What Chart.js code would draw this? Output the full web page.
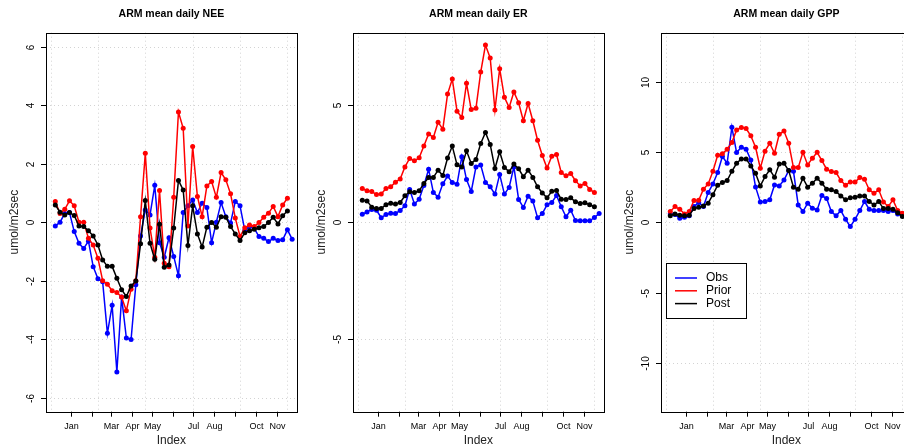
<!DOCTYPE html>
<html>
<head>
<meta charset="utf-8">
<script src="https://cdn.jsdelivr.net/npm/chart.js@4.4.1/dist/chart.umd.min.js"></script>
<style>
html, body { margin: 0; padding: 0; background: #fff; overflow: hidden; }
#wrap { position: relative; width: 904px; height: 448px; overflow: hidden; }
canvas { position: absolute; top: 0; }
</style>
</head>
<body>
<div id="wrap">
  <canvas id="nee" width="308" height="448" style="left:0px"></canvas>
  <canvas id="er" width="308" height="448" style="left:307px"></canvas>
  <canvas id="gpp" width="308" height="448" style="left:615px"></canvas>
</div>
<script>
// weekly means, index 1..51 (Obs has one more week than Prior/Post)
const obsNEE = [-0.13, 0.00, 0.30, 0.33, -0.32, -0.72, -0.90, -0.65, -1.52, -1.93,
  -2.04, -3.80, -2.84, -5.12, -2.56, -3.96, -4.01, -2.14, -0.47, 0.42,
  0.25, 1.26, -0.70, -1.20, -0.53, -1.17, -1.83, 0.33, 0.56, 0.76,
  0.33, 0.65, 0.50, -0.70, 0.00, 0.67, 0.19, -0.03, 0.71, 0.56,
  -0.28, -0.15, -0.21, -0.49, -0.55, -0.66, -0.55, -0.63, -0.60, -0.26, -0.58];
const priorNEE = [0.71, 0.30, 0.44, 0.73, 0.56, 0.00, 0.00, -0.55, -0.78, -1.23,
  -2.00, -2.12, -2.34, -2.40, -2.56, -3.03, -2.29, -2.00, 0.19, 2.36,
  -0.20, -1.20, 1.08, -1.40, -1.52, 0.85, 3.77, 3.21, -0.13, 2.59,
  0.88, 0.19, 1.24, 1.39, 0.85, 1.70, 1.45, 0.97, 0.14, -0.49,
  -0.19, -0.10, -0.15, -0.01, 0.17, 0.31, 0.54, 0.19, 0.59, 0.82];
const postNEE = [0.59, 0.34, 0.25, 0.33, 0.23, -0.13, -0.15, -0.29, -0.47, -0.78,
  -1.29, -1.51, -1.51, -1.92, -2.31, -2.54, -2.18, -2.01, -0.74, 0.74,
  -0.72, -1.27, -0.07, -1.54, -1.46, -0.20, 1.43, 1.10, -0.80, 0.56,
  -0.40, -0.85, -0.17, -0.01, -0.17, 0.19, 0.17, -0.15, -0.40, -0.63,
  -0.36, -0.29, -0.24, -0.19, -0.15, -0.01, 0.17, -0.06, 0.22, 0.38];

const obsER = [0.34, 0.44, 0.54, 0.51, 0.19, 0.33, 0.38, 0.37, 0.50, 0.70,
  1.40, 0.78, 0.98, 1.57, 2.26, 1.27, 1.07, 1.64, 1.97, 1.70,
  1.62, 2.79, 1.82, 1.31, 2.36, 2.44, 1.70, 1.51, 1.20, 2.04,
  1.20, 1.48, 2.36, 0.97, 0.63, 1.11, 0.90, 0.19, 0.37, 0.74,
  0.84, 1.14, 0.66, 0.23, 0.51, 0.07, 0.06, 0.06, 0.06, 0.20, 0.37];
const priorER = [1.44, 1.34, 1.31, 1.18, 1.20, 1.44, 1.51, 1.71, 1.84, 2.36,
  2.72, 2.62, 2.75, 3.25, 3.77, 3.62, 4.27, 3.97, 5.47, 6.11,
  4.74, 4.47, 5.93, 4.81, 4.87, 6.41, 7.56, 7.01, 4.79, 6.55,
  5.33, 4.90, 5.56, 5.10, 4.33, 5.07, 4.33, 3.50, 2.85, 2.31,
  2.82, 2.89, 2.12, 1.98, 2.08, 1.77, 1.55, 1.65, 1.40, 1.27];
const postER = [0.94, 0.91, 0.64, 0.58, 0.58, 0.75, 0.81, 0.78, 0.84, 1.13,
  1.30, 1.27, 1.34, 1.65, 1.91, 1.91, 2.22, 1.99, 2.74, 3.25,
  2.45, 2.36, 3.05, 2.51, 2.68, 3.36, 3.83, 3.32, 2.29, 3.01,
  2.34, 2.15, 2.48, 2.28, 1.94, 2.22, 1.91, 1.51, 1.25, 1.04,
  1.32, 1.35, 0.98, 0.97, 1.04, 0.87, 0.80, 0.83, 0.75, 0.66];

const obsGPP = [0.59, 0.54, 0.28, 0.35, 0.45, 1.11, 1.40, 1.11, 2.11, 2.72,
  3.53, 4.67, 4.19, 6.75, 4.95, 5.33, 5.19, 4.43, 2.51, 1.44,
  1.47, 1.59, 2.65, 2.58, 3.00, 3.67, 3.62, 1.23, 0.76, 1.35,
  0.99, 0.87, 1.89, 1.68, 0.76, 0.45, 0.83, 0.21, -0.31, 0.21,
  0.83, 1.47, 0.92, 0.83, 0.83, 0.83, 0.76, 0.83, 0.59, 0.45, 0.35];
const priorGPP = [0.76, 1.11, 0.92, 0.59, 0.76, 1.54, 1.56, 2.34, 2.72, 3.62,
  4.76, 4.86, 5.19, 5.66, 6.56, 6.73, 6.66, 6.14, 5.33, 3.84,
  5.05, 5.61, 4.90, 6.25, 6.48, 5.61, 3.88, 3.88, 4.97, 4.07,
  4.55, 4.97, 4.38, 3.77, 3.60, 3.53, 2.96, 2.63, 2.86, 2.86,
  3.17, 3.05, 2.30, 2.06, 2.30, 1.44, 1.11, 1.59, 0.83, 0.64];
const postGPP = [0.45, 0.59, 0.50, 0.45, 0.50, 0.97, 1.06, 1.16, 1.35, 1.96,
  2.63, 2.82, 2.96, 3.62, 4.19, 4.50, 4.50, 4.00, 3.48, 2.58,
  3.24, 3.72, 3.20, 4.13, 4.19, 3.67, 2.49, 2.34, 3.13, 2.49,
  2.77, 3.13, 2.77, 2.34, 2.30, 2.18, 1.87, 1.59, 1.73, 1.77,
  1.87, 1.87, 1.47, 1.23, 1.47, 0.97, 0.97, 0.92, 0.68, 0.40];

// month starts on the index axis (Feb, Jun, Sep labels dropped like in R)
const monthTicks = [4.31, 8.74, 12.74, 17.17, 21.46, 25.89, 30.17, 34.6, 39.03, 43.31, 47.74];
const monthLabels = ['Jan', '', 'Mar', 'Apr', 'May', '', 'Jul', 'Aug', '', 'Oct', 'Nov'];
const gridX = [0, 10, 20, 30, 40, 50];

const yTicksNEE = [-6, -4, -2, 0, 2, 4, 6];
const yTicksER = [-5, 0, 5];
const yTicksGPP = [-10, -5, 0, 5, 10];

const FONT = '"Liberation Sans", Arial, Helvetica, sans-serif';

const pts = arr => arr.map((v, i) => ({ x: i + 1, y: v }));

function line(ctx, x1, y1, x2, y2) {
    ctx.beginPath();
    ctx.moveTo(x1, y1);
    ctx.lineTo(x2, y2);
    ctx.stroke();
}

// R base-graphics look: dotted grid, box, outside ticks, rotated y labels
const rFrame = {
    id: 'rFrame',
    beforeDatasetsDraw(chart, args, opts) {
        const { ctx, chartArea: a, scales: { x, y } } = chart;
        ctx.save();
        ctx.strokeStyle = '#d3d3d3';
        ctx.lineWidth = 1;
        ctx.setLineDash([1, 3]);
        gridX.forEach(v => {
            const px = Math.round(x.getPixelForValue(v)) + 0.5;
            line(ctx, px, a.top, px, a.bottom);
        });
        opts.yTicks.forEach(v => {
            const py = Math.round(y.getPixelForValue(v)) + 0.5;
            line(ctx, a.left, py, a.right, py);
        });
        ctx.restore();
    },
    afterDraw(chart, args, opts) {
        const { ctx, chartArea: a, scales: { x, y } } = chart;
        ctx.save();
        ctx.strokeStyle = '#000';
        ctx.fillStyle = '#000';
        ctx.lineWidth = 1;
        ctx.setLineDash([]);
        ctx.strokeRect(Math.round(a.left) + 0.5, Math.round(a.top) + 0.5,
            Math.round(a.right - a.left), Math.round(a.bottom - a.top));

        // x axis
        ctx.font = '9px ' + FONT;
        ctx.textAlign = 'center';
        ctx.textBaseline = 'middle';
        monthTicks.forEach((v, i) => {
            const px = Math.round(x.getPixelForValue(v)) + 0.5;
            line(ctx, px, a.bottom, px, a.bottom + 5);
            if (monthLabels[i]) ctx.fillText(monthLabels[i], px, a.bottom + 15);
        });

        // y axis
        ctx.font = '10px ' + FONT;
        opts.yTicks.forEach(v => {
            const py = Math.round(y.getPixelForValue(v)) + 0.5;
            line(ctx, a.left - 5, py, a.left, py);
            ctx.save();
            ctx.translate(a.left - 15, py);
            ctx.rotate(-Math.PI / 2);
            ctx.fillText(String(v), 0, 0);
            ctx.restore();
        });

        const cx = (a.left + a.right) / 2;
        ctx.font = 'bold 10.5px ' + FONT;
        ctx.fillText(opts.title, cx, 14);

        ctx.font = '12px ' + FONT;
        ctx.fillStyle = '#222';
        ctx.fillText('Index', cx, 441);
        ctx.save();
        ctx.translate(a.left - 31, (a.top + a.bottom) / 2);
        ctx.rotate(-Math.PI / 2);
        ctx.fillText('umol/m2sec', 0, 0);
        ctx.restore();

        if (opts.legend) {
            const lx = a.left + 5, ly = 263.5;
            ctx.fillStyle = '#fff';
            ctx.fillRect(lx, ly, 80, 55);
            ctx.strokeStyle = '#000';
            ctx.strokeRect(Math.round(lx) + 0.5, ly, 80, 55);
            ctx.font = '12px ' + FONT;
            ctx.textAlign = 'left';
            ctx.fillStyle = '#000';
            ['Obs', 'Prior', 'Post'].forEach((name, k) => {
                const ds = chart.data.datasets.find(d => d.label === name);
                const ry = ly + 14.5 + k * 12.8;
                ctx.strokeStyle = ds.borderColor;
                ctx.lineWidth = 1.5;
                line(ctx, lx + 9, ry, lx + 31, ry);
                ctx.fillText(name, lx + 40, ry);
            });
        }
        ctx.restore();
    }
};

function panel(id, title, obs, prior, post, lim, yTicks, legend) {
    const style = c => ({
        borderColor: c,
        backgroundColor: c,
        pointBackgroundColor: c,
        pointBorderWidth: 0,
        pointRadius: 2.5,
        borderWidth: 1.5,
        tension: 0,
        fill: false
    });
    return new Chart(document.getElementById(id), {
        type: 'line',
        data: {
            datasets: [
                { label: 'Obs', data: pts(obs), order: 3, ...style('#0000ff') },
                { label: 'Prior', data: pts(prior), order: 2, ...style('#ff0000') },
                { label: 'Post', data: pts(post), order: 1, ...style('#000000') }
            ]
        },
        options: {
            responsive: false,
            animation: false,
            events: [],
            layout: { padding: { left: 46, right: 11.3, top: 32.7, bottom: 36.3 } },
            plugins: {
                legend: { display: false },
                tooltip: { enabled: false },
                rFrame: { title: title, yTicks: yTicks, legend: legend }
            },
            scales: {
                x: { type: 'linear', display: false, min: -0.96, max: 51.96 },
                y: { type: 'linear', display: false, min: -lim, max: lim }
            }
        },
        plugins: [rFrame]
    });
}

panel('nee', 'ARM mean daily NEE', obsNEE, priorNEE, postNEE, 6.48, yTicksNEE, false);
panel('er', 'ARM mean daily ER', obsER, priorER, postER, 8.09, yTicksER, false);
panel('gpp', 'ARM mean daily GPP', obsGPP, priorGPP, postGPP, 13.47, yTicksGPP, true);
</script>
</body>
</html>
